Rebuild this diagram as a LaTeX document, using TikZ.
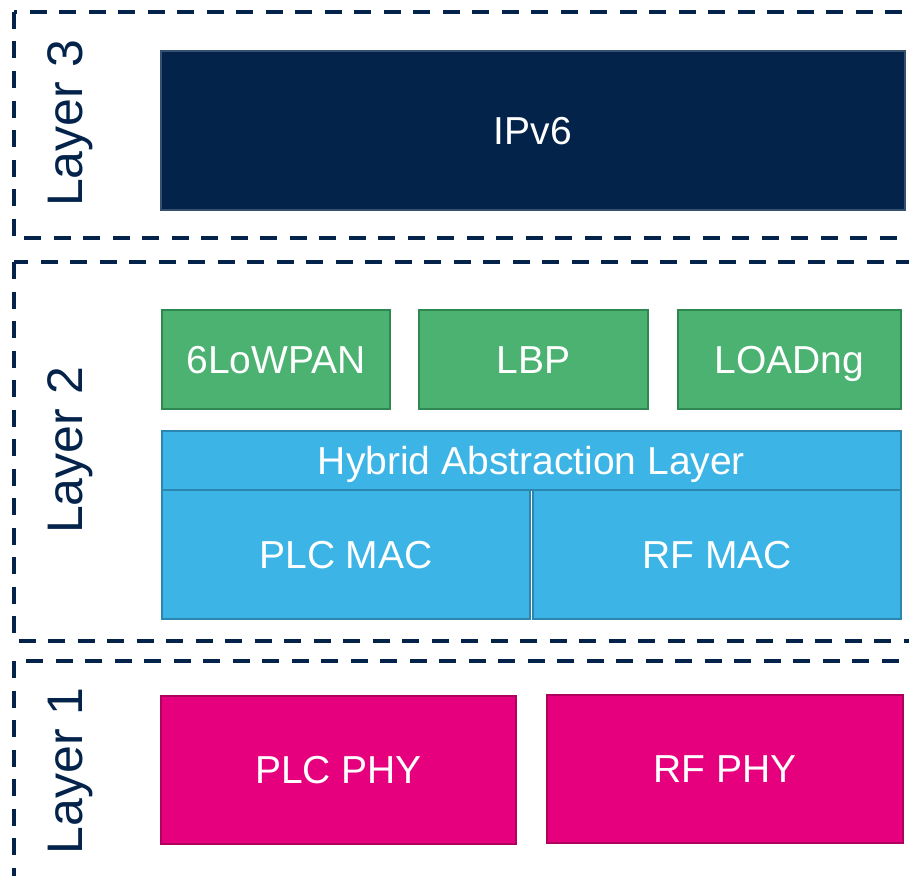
\documentclass[tikz,border=0pt]{standalone}
\usepackage{fontspec}
\setmainfont{Liberation Sans}
\definecolor{stnavy}{HTML}{03234B}
\definecolor{stgreen}{HTML}{4BB272}
\definecolor{stgreenline}{HTML}{2F8752}
\definecolor{stblue}{HTML}{3CB4E6}
\definecolor{stblueline}{HTML}{2B86B0}
\definecolor{stpink}{HTML}{E6007E}
\definecolor{stpinkline}{HTML}{B0005E}
\tikzset{
  layerframe/.style={draw=stnavy, line width=3.5pt, dash pattern=on 17pt off 12.5pt},
  layerlabel/.style={rotate=90, text=stnavy, inner sep=0pt, text height=35.8pt, text depth=0pt,
    font=\fontsize{50}{60}\selectfont},
  block/.style={anchor=north west, inner sep=0pt, line width=2pt, text=white,
    text height=27.9pt, text depth=0pt, font=\fontsize{39}{47}\selectfont},
  netblock/.style={block, fill=stnavy, draw=stnavy!80},
  upblock/.style={block, fill=stgreen, draw=stgreenline},
  macblock/.style={block, fill=stblue, draw=stblueline},
  phyblock/.style={block, fill=stpink, draw=stpinkline}
}
\begin{document}
\begin{tikzpicture}[x=1pt,y=-1pt]
  \useasboundingbox (0,0) rectangle (909,875);
  % dashed layer frames, open to the right
  \draw[layerframe] (14,12) rectangle (940,238);
  \draw[layerframe] (14,262) rectangle (940,641);
  \draw[layerframe] (14,661) rectangle (940,900);
  \node[layerlabel] (l3) at (65,123.5) {Layer 3};
  \node[layerlabel] (l2) at (65,450.5) {Layer 2};
  \node[layerlabel] (l1) at (65,771) {Layer 1};
  % layer 3
  \node[netblock, minimum width=744pt, minimum height=159pt] (ipv6) at (160,50) {IPv6};
  % layer 2
  \node[upblock, minimum width=228pt, minimum height=99pt] (lowpan) at (161,309) {6LoWPAN};
  \node[upblock, minimum width=229pt, minimum height=99pt] (lbp) at (418,309) {LBP};
  \node[upblock, minimum width=223pt, minimum height=99pt] (loadng) at (677,309) {LOADng};
  \node[macblock, minimum width=739pt, minimum height=59pt] (hal) at (161,430) {Hybrid Abstraction Layer};
  \node[macblock, minimum width=368pt, minimum height=129pt] (plcmac) at (161,489) {PLC MAC};
  \node[macblock, minimum width=368pt, minimum height=129pt] (rfmac) at (532,489) {RF MAC};
  % layer 1
  \node[phyblock, minimum width=355pt, minimum height=148pt] (plcphy) at (160,695) {PLC PHY};
  \node[phyblock, minimum width=356pt, minimum height=148pt] (rfphy) at (546,694) {RF PHY};
\end{tikzpicture}
\end{document}
